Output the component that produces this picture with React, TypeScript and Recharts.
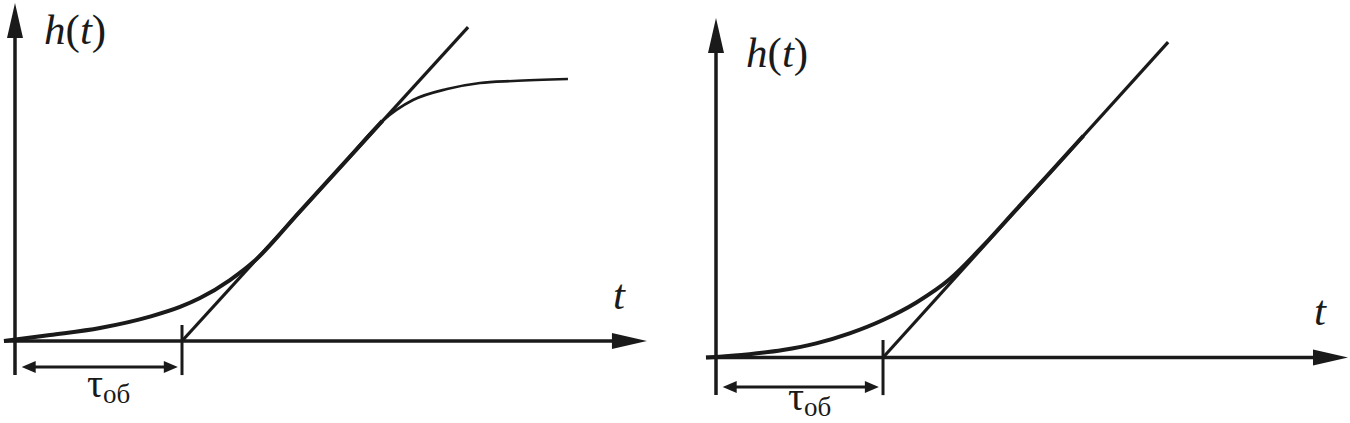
import React from 'react';
import { ComposedChart, Line, XAxis, YAxis, ReferenceLine, ReferenceDot } from 'recharts';

const INK = '#1a1a1a';
const FONT = 'Liberation Serif';

// time in units of tau_ob, h in the same units

// left: object with self-regulation (S-curve that levels off)
const leftCurveLow = [
  { t: -0.066, h: 0 }, { t: 0.21, h: 0.036 }, { t: 0.509, h: 0.078 }, { t: 0.808, h: 0.146 },
  { t: 0.988, h: 0.204 }, { t: 1.108, h: 0.257 }, { t: 1.287, h: 0.365 }, { t: 1.437, h: 0.482 },
  { t: 1.7, h: 0.769 }, { t: 2.0, h: 1.098 }, { t: 2.2, h: 1.318 },
];
const leftCurveHigh = [
  { t: 2.0, h: 1.098 }, { t: 2.2, h: 1.318 }, { t: 2.383, h: 1.443 }, { t: 2.587, h: 1.509 },
  { t: 2.784, h: 1.545 }, { t: 2.982, h: 1.557 }, { t: 3.311, h: 1.569 },
];
const leftTangent = [{ t: 1, h: 0 }, { t: 2.713, h: 1.88 }];

// right: object without self-regulation (curve goes onto the asymptote)
const rightCurve = [
  { t: -0.06, h: 0 }, { t: 0.2, h: 0.02 }, { t: 0.4, h: 0.045 }, { t: 0.6, h: 0.085 },
  { t: 0.8, h: 0.145 }, { t: 1.0, h: 0.225 }, { t: 1.2, h: 0.33 }, { t: 1.4, h: 0.47 },
  { t: 1.6, h: 0.67 }, { t: 1.8, h: 0.889 }, { t: 2.0, h: 1.107 }, { t: 2.2, h: 1.328 },
];
const rightTangent = [{ t: 1, h: 0 }, { t: 2.707, h: 1.889 }];

// axis extents [start, tip]
const leftAxisT = [-0.066, 3.784];
const leftAxisH = [-0.204, 2.024];
const leftTick = [-0.204, 0.096];
const leftDim = { h: -0.156, from: 0.04, to: 0.975 };

const rightAxisT = [-0.06, 3.784];
const rightAxisH = [-0.225, 2.033];
const rightTick = [-0.225, 0.105];
const rightDim = { h: -0.177, from: 0.04, to: 0.975 };

// label anchors
const leftLabels = { h: [0.174, 1.778], t: [3.581, 0.192], tau: [0.431, -0.335] };
const rightLabels = { h: [0.18, 1.74], t: [3.581, 0.195], tau: [0.431, -0.316] };

const ArrowLine = (props: any) => {
  const { x1, y1, x2, y2, len, w, both, sw } = props;
  const dx = x2 - x1;
  const dy = y2 - y1;
  const d = Math.sqrt(dx * dx + dy * dy) || 1;
  const ux = dx / d;
  const uy = dy / d;
  const head = (px: number, py: number, sx: number, sy: number) => {
    const bx = px - sx * len;
    const by = py - sy * len;
    return `${px},${py} ${bx - sy * w},${by + sx * w} ${bx + sy * w},${by - sx * w}`;
  };
  const sx1 = both ? x1 + ux * len * 0.8 : x1;
  const sy1 = both ? y1 + uy * len * 0.8 : y1;
  return (
    <g>
      <line x1={sx1} y1={sy1} x2={x2 - ux * len * 0.8} y2={y2 - uy * len * 0.8} stroke={INK} strokeWidth={sw} />
      <polygon points={head(x2, y2, ux, uy)} fill={INK} />
      {both && <polygon points={head(x1, y1, -ux, -uy)} fill={INK} />}
    </g>
  );
};

const HLabel = ({ cx, cy }: any) => (
  <text x={cx} y={cy} fontFamily={FONT} fontSize={43} fill={INK}>
    <tspan fontStyle="italic">h</tspan>
    <tspan>(</tspan>
    <tspan fontStyle="italic">t</tspan>
    <tspan>)</tspan>
  </text>
);

const TLabel = ({ cx, cy }: any) => (
  <text x={cx} y={cy} fontFamily={FONT} fontSize={43} fontStyle="italic" fill={INK}>t</text>
);

const TauLabel = ({ cx, cy }: any) => (
  <text x={cx} y={cy} fontFamily={FONT} fontSize={40} fill={INK}>
    τ<tspan fontSize={27} dy={6}>об</tspan>
  </text>
);

const Panel = ({ xDomain, yDomain, curves, tangent, axisT, axisH, tick, dim, labels }: any) => (
  <ComposedChart width={675} height={423} margin={{ top: 0, right: 0, bottom: 0, left: 0 }}>
    <XAxis type="number" dataKey="t" domain={xDomain} allowDataOverflow hide />
    <YAxis type="number" dataKey="h" domain={yDomain} allowDataOverflow hide />
    <ReferenceLine
      segment={[{ x: axisT[0], y: 0 }, { x: axisT[1], y: 0 }]}
      shape={(p: any) => <ArrowLine {...p} len={35} w={8} sw={3.5} />}
    />
    <ReferenceLine
      segment={[{ x: 0, y: axisH[0] }, { x: 0, y: axisH[1] }]}
      shape={(p: any) => <ArrowLine {...p} len={35} w={8} sw={3.5} />}
    />
    <ReferenceLine
      segment={[{ x: 1, y: tick[0] }, { x: 1, y: tick[1] }]}
      stroke={INK}
      strokeWidth={3}
    />
    <ReferenceLine
      segment={[{ x: dim.from, y: dim.h }, { x: dim.to, y: dim.h }]}
      shape={(p: any) => <ArrowLine {...p} len={14} w={6} sw={3} both />}
    />
    <Line data={tangent} dataKey="h" type="linear" stroke={INK} strokeWidth={3.2} dot={false} activeDot={false} isAnimationActive={false} />
    {curves.map((c: any, i: number) => (
      <Line key={`curve-${i}`} data={c.data} dataKey="h" type="monotone" stroke={INK} strokeWidth={c.width} dot={false} activeDot={false} isAnimationActive={false} />
    ))}
    <ReferenceDot x={labels.h[0]} y={labels.h[1]} r={0} shape={(p: any) => <HLabel cx={p.cx} cy={p.cy} />} />
    <ReferenceDot x={labels.t[0]} y={labels.t[1]} r={0} shape={(p: any) => <TLabel cx={p.cx} cy={p.cy} />} />
    <ReferenceDot x={labels.tau[0]} y={labels.tau[1]} r={0} shape={(p: any) => <TauLabel cx={p.cx} cy={p.cy} />} />
  </ComposedChart>
);

export default function App() {
  return (
    <div style={{ position: 'absolute', left: 0, top: 0, width: 1350, height: 423, background: '#fff', display: 'flex' }}>
      <Panel
        xDomain={[-0.0898, 3.952]}
        yDomain={[-0.491, 2.042]}
        curves={[{ data: leftCurveHigh, width: 2.6 }, { data: leftCurveLow, width: 4 }]}
        tangent={leftTangent}
        axisT={leftAxisT}
        axisH={leftAxisH}
        tick={leftTick}
        dim={leftDim}
        labels={leftLabels}
      />
      <Panel
        xDomain={[-0.2455, 3.796]}
        yDomain={[-0.392, 2.141]}
        curves={[{ data: rightCurve, width: 4 }]}
        tangent={rightTangent}
        axisT={rightAxisT}
        axisH={rightAxisH}
        tick={rightTick}
        dim={rightDim}
        labels={rightLabels}
      />
    </div>
  );
}
